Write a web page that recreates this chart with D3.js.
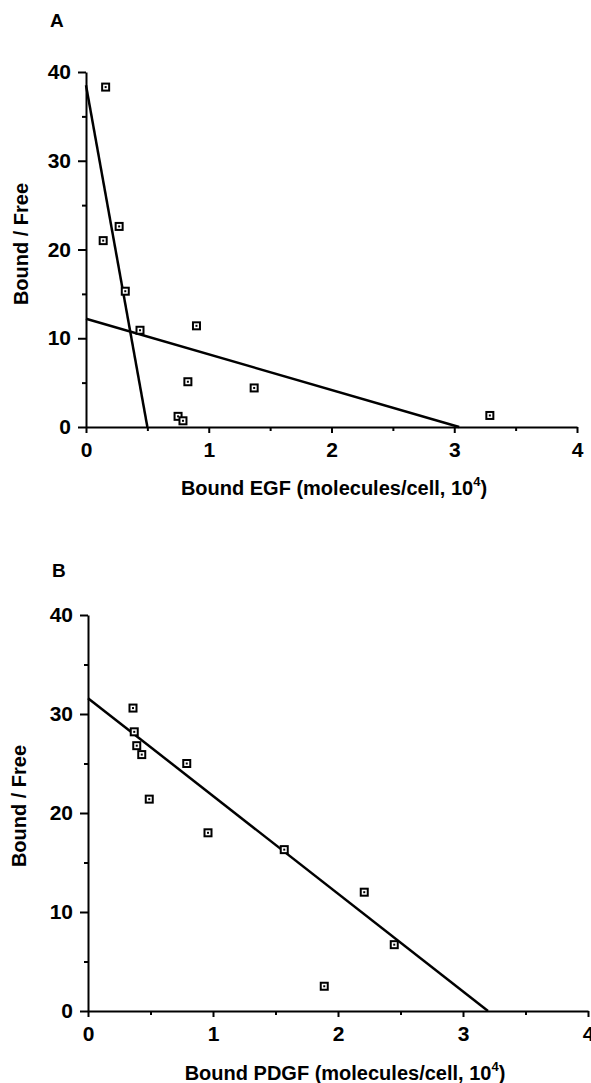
<!DOCTYPE html>
<html>
<head>
<meta charset="utf-8">
<script src="https://cdn.jsdelivr.net/npm/d3@7"></script>
<style>
  html, body { margin: 0; padding: 0; background: #fff; }
  svg { display: block; }
  text { font-family: "Liberation Sans", Arial, Helvetica, sans-serif; font-weight: bold; fill: #000; }
</style>
</head>
<body>
<svg id="chart" width="591" height="1083"></svg>
<script>
/* ---- data ------------------------------------------------------- */
// Panel A: Scatchard plot of EGF binding
const egfBound = [0.16, 0.14, 0.27, 0.32, 0.44, 0.90, 0.83, 1.37, 0.75, 0.79, 3.29];
const egfRatio = [38.3, 21.0, 22.6, 15.3, 10.9, 11.4, 5.1, 4.4, 1.2, 0.7, 1.3];
const egfFitHigh = [[0, 38.5], [0.5, 0]];
const egfFitLow  = [[0, 12.2], [3.04, 0]];

// Panel B: Scatchard plot of PDGF binding
const pdgfBound = [0.36, 0.37, 0.39, 0.43, 0.79, 0.49, 0.96, 1.57, 2.21, 2.45, 1.89];
const pdgfRatio = [30.6, 28.2, 26.8, 25.9, 25.0, 21.4, 18.0, 16.3, 12.0, 6.7, 2.5];
const pdgfFit   = [[0, 31.6], [3.2, 0]];

const xTicks      = [0, 1, 2, 3, 4];
const xMinorTicks = [0.5, 1.5, 2.5, 3.5];
const yTicks      = [0, 10, 20, 30, 40];
const yMinorTicks = [5, 15, 25, 35];

const yTitle = "Bound / Free";

const svg = d3.select("#chart");

/*****************************************************************
 *  panel() – one Scatchard plot: axes, squares, fitted lines
 *****************************************************************/
function panel({ letter, letterPos, xRange, yRange, xs, ys, fits,
                 xLabel, xLabelPos, yLabelPos }) {
  const g = svg.append("g");
  const x = d3.scaleLinear([0, 4], xRange);
  const y = d3.scaleLinear([0, 40], yRange);

  /* ---- axes ------------------------------------------------------ */
  g.append("g")
    .attr("transform", `translate(${xRange[0]},0)`)
    .call(d3.axisLeft(y).tickValues(yTicks).tickSize(8).tickSizeOuter(0)
      .tickPadding(7).tickFormat(d3.format("d")));
  g.append("g")
    .attr("transform", `translate(${xRange[0]},0)`)
    .call(d3.axisLeft(y).tickValues(yMinorTicks).tickSize(4).tickSizeOuter(0).tickFormat(""))
    .select(".domain").remove();

  g.append("g")
    .attr("transform", `translate(0,${yRange[0]})`)
    .call(d3.axisBottom(x).tickValues(xTicks).tickSize(6).tickSizeOuter(0)
      .tickPadding(9).tickFormat(d3.format("d")));
  g.append("g")
    .attr("transform", `translate(0,${yRange[0]})`)
    .call(d3.axisBottom(x).tickValues(xMinorTicks).tickSize(4).tickSizeOuter(0).tickFormat(""))
    .select(".domain").remove();

  g.selectAll(".domain").attr("stroke-width", 2);
  g.selectAll(".tick line").attr("stroke-width", 2);
  g.selectAll(".tick text").attr("font-size", 21);

  /* ---- fitted lines --------------------------------------------- */
  const lineGen = d3.line().x(d => x(d[0])).y(d => y(d[1]));
  fits.forEach(f =>
    g.append("path")
      .attr("d", lineGen(f))
      .attr("fill", "none")
      .attr("stroke", "#000")
      .attr("stroke-width", 2.5)
  );

  /* ---- square markers ------------------------------------------- */
  const pts = xs.map((v, i) => [v, ys[i]]);
  const m = g.append("g").selectAll("g")
    .data(pts)
    .enter().append("g")
      .attr("transform", d => `translate(${x(d[0])},${y(d[1])})`);
  m.append("rect")
    .attr("x", -3.5).attr("y", -3.5)
    .attr("width", 7).attr("height", 7)
    .attr("fill", "#fff")
    .attr("stroke", "#000")
    .attr("stroke-width", 2);
  m.append("rect")
    .attr("x", -1).attr("y", -1)
    .attr("width", 2).attr("height", 2)
    .attr("fill", "#000");

  /* ---- titles ---------------------------------------------------- */
  g.append("text")
    .attr("x", letterPos[0]).attr("y", letterPos[1])
    .attr("font-size", 19)
    .text(letter);

  g.append("text")
    .attr("transform", `translate(${yLabelPos[0]},${yLabelPos[1]}) rotate(-90)`)
    .attr("text-anchor", "middle")
    .attr("font-size", 20)
    .text(yTitle);

  const xl = g.append("text")
    .attr("x", xLabelPos[0]).attr("y", xLabelPos[1])
    .attr("text-anchor", "middle")
    .attr("font-size", 20);
  xl.append("tspan").text(xLabel + "  10");
  xl.append("tspan").attr("dy", -9).attr("font-size", 13).text("4");
  xl.append("tspan").attr("dy", 9).text(")");
}

panel({
  letter: "A", letterPos: [50, 27],
  xRange: [86, 577], yRange: [427, 72],
  xs: egfBound, ys: egfRatio,
  fits: [egfFitHigh, egfFitLow],
  xLabel: "Bound EGF (molecules/cell,",
  xLabelPos: [334, 495], yLabelPos: [28, 244]
});

panel({
  letter: "B", letterPos: [52, 577],
  xRange: [88, 588], yRange: [1011, 615],
  xs: pdgfBound, ys: pdgfRatio,
  fits: [pdgfFit],
  xLabel: "Bound PDGF (molecules/cell,",
  xLabelPos: [345, 1080], yLabelPos: [26, 806]
});
</script>
</body>
</html>
